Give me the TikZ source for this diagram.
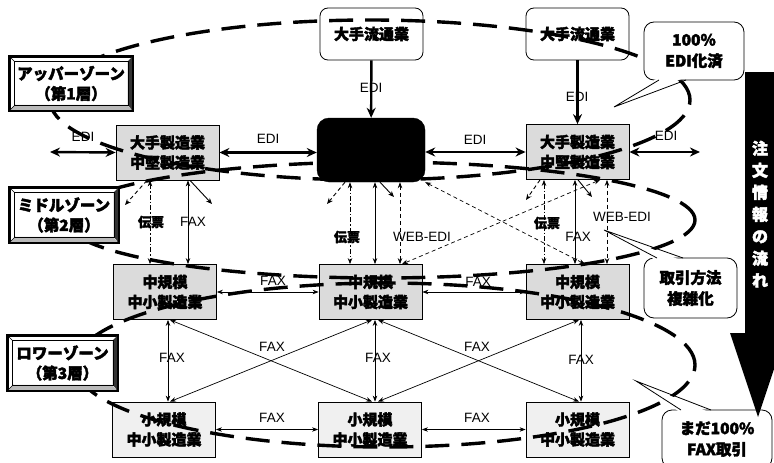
\documentclass[tikz,border=0pt]{standalone}
\usepackage{fontspec}
\newfontfamily\jp{Noto Sans CJK JP}[FakeBold=2.5]
\newfontfamily\lat{Liberation Sans}
\usetikzlibrary{arrows.meta,calc}
\newcommand\zonebevel[1]{%
  \fill[gray!55] (#1.south west) -- (#1.south east) -- ($(#1.south east)+(-6,-6)$) -- ($(#1.south west)+(6,-6)$) -- cycle;
  \fill[black!80] (#1.south east) -- (#1.north east) -- ($(#1.north east)+(-5,5)$) -- ($(#1.south east)+(-5,-6)$) -- cycle;
  \draw[line width=0.5pt] ($(#1.north west)+(5,5)$) rectangle ($(#1.south east)+(-5,-6)$);
  \draw[line width=0.5pt] (#1.north west) -- ($(#1.north west)+(5,5)$) (#1.south west) -- ($(#1.south west)+(6,-6)$);
  \draw[line width=1.6pt] (#1.south west) rectangle (#1.north east);
}
\begin{document}
\begin{tikzpicture}[x=1pt,y=-1pt,
  mbox/.style={draw, line width=0.8pt, fill=gray!28, minimum width=103pt, minimum height=55pt, inner sep=0pt, align=center, font=\jp\bfseries\fontsize{15}{20}\selectfont},
  bbox/.style={mbox, fill=gray!12},
  topbox/.style={draw, line width=0.8pt, fill=white, rounded corners=8pt, minimum width=103pt, minimum height=52pt, inner sep=0pt, font=\jp\bfseries\fontsize{15}{18}\selectfont},
  hubbox/.style={draw, fill=black, rounded corners=12pt, minimum width=108pt, minimum height=64pt},
  zonelab/.style={draw, line width=1.6pt, fill=white, inner sep=0pt, align=center, font=\jp\bfseries\fontsize{15.5}{20}\selectfont},
  callout/.style={draw, line width=0.8pt, fill=white, rounded corners=10pt, inner sep=0pt, align=center, font=\jp\bfseries\fontsize{15.5}{21}\selectfont},
  ediarr/.style={line width=2.4pt, -{Stealth[length=10pt,width=9pt]}},
  edi/.style={line width=2.4pt, {Stealth[length=10pt,width=9pt]}-{Stealth[length=10pt,width=9pt]}},
  thinarr/.style={line width=0.7pt, {Stealth[length=6pt,width=4.5pt]}-{Stealth[length=6pt,width=4.5pt]}},
  thinone/.style={line width=0.9pt, -{Stealth[length=6pt,width=5pt]}},
  dashdot/.style={line width=1.2pt, dash pattern=on 5pt off 2pt on 1.5pt off 2pt},
  dsh/.style={line width=1.3pt, dash pattern=on 4pt off 3pt},
  lab/.style={font=\lat\fontsize{13.5}{14}\selectfont, inner sep=1pt},
  jlab/.style={font=\jp\bfseries\fontsize{13}{14}\selectfont, inner sep=1pt},
  ring/.style={line width=3.4pt, dash pattern=on 24pt off 12pt}
]
\useasboundingbox (0,0) rectangle (774,463);

% boxes
\node[topbox] (r1) at (371.5,34) {大手流通業};
\node[topbox] (r2) at (577.5,34) {大手流通業};
\node[mbox] (m1) at (167.5,152.5) {大手製造業\\中堅製造業};
\node[hubbox] (hub) at (371,150) {};
\node[mbox] (m2) at (577.5,152) {大手製造業\\中堅製造業};
\node[mbox] (s1) at (165,292) {中規模\\中小製造業};
\node[mbox] (s2) at (370.5,292) {中規模\\中小製造業};
\node[mbox] (s3) at (577.5,292) {中規模\\中小製造業};
\node[bbox] (t1) at (164,429.5) {小規模\\中小製造業};
\node[bbox] (t2) at (370,429.5) {小規模\\中小製造業};
\node[bbox] (t3) at (577.5,429.5) {小規模\\中小製造業};

% free ends
\coordinate (eL) at (50,152);
\coordinate (eR) at (700,152);
\coordinate (st1) at (125,205);
\coordinate (st2) at (212,204);
\coordinate (st3) at (327,204);
\coordinate (st4) at (394,197);
\coordinate (st5) at (526,200);
\coordinate (st6) at (592,197);

% EDI arrows
\draw[ediarr] (r1) -- (hub);
\draw[ediarr] (r2) -- (m2);
\draw[edi] (eL) -- (m1.west);
\draw[edi] (m1.east) -- (m1.east -| hub.west);
\draw[edi] (m2.west -| hub.east) -- (m2.west);
\draw[edi] (m2.east) -- (eR);
\node[lab] (le1) at (371,88) {EDI};
\node[lab] (le2) at (577,97) {EDI};
\node[lab] (le3) at (83,137) {EDI};
\node[lab] (le4) at (268,139) {EDI};
\node[lab] (le5) at (475,140) {EDI};
\node[lab] (le6) at (666,136) {EDI};

% column under m1
\draw[dashdot, thinarr] (m1.south -| 150,0) -- (s1.north -| 150,0);
\draw[thinarr] (m1.south -| 188,0) -- (s1.north -| 188,0);
\draw[dsh, thinone] (m1.south -| 147,0) -- (st1);
\draw[thinone] (m1.south -| 190,0) -- (st2);
\node[jlab] (lm1a) at (151,222) {伝票};
\node[lab] (lm1b) at (193,222) {FAX};

% column under hub
\draw[dashdot, thinarr] (hub.south -| 350,0) -- (s2.north -| 350,0);
\draw[thinarr] (hub.south -| 375,0) -- (s2.north -| 375,0);
\draw[dsh, thinarr] (hub.south -| 400,0) -- (s2.north -| 400,0);
\draw[dsh, thinone] (hub.south -| 345,0) -- (st3);
\draw[thinone] (hub.south -| 380,0) -- (st4);
\node[jlab] (lh1) at (347,237) {伝票};
\node[lab] (lh2) at (422,237) {WEB-EDI};

% column under m2
\draw[dashdot, thinarr] (m2.south -| 544,0) -- (s3.north -| 544,0);
\draw[thinarr] (m2.south -| 575,0) -- (s3.north -| 575,0);
\draw[dsh, thinarr] (m2.south -| 607,0) -- (s3.north -| 607,0);
\draw[dsh, thinone] (m2.south -| 540,0) -- (st5);
\draw[thinone] (m2.south -| 578,0) -- (st6);
\node[jlab] (lm2a) at (547,223) {伝票};
\node[lab] (lm2b) at (578,237) {FAX};
\node[lab] (lm2c) at (622,217) {WEB-EDI};

% crossing dashed diagonals
\draw[dsh, thinarr] (hub.south east) -- (s3.north -| 585,0);
\draw[dsh, thinarr] (m2.south -| 600,0) -- (s2.north -| 402,0);

% middle row
\draw[thinarr] (s1.east) -- (s2.west);
\draw[thinarr] (s2.east) -- (s3.west);
\node[lab] (lf1) at (273,281) {FAX};
\node[lab] (lf2) at (478,282) {FAX};

% middle to bottom
\draw[thinarr] (s1.south -| 168,0) -- (t1.north -| 168,0);
\draw[thinarr] (s2.south -| 375,0) -- (t2.north -| 375,0);
\draw[thinarr] (s3.south -| 581,0) -- (t3.north -| 581,0);
\draw[thinarr] (s1.south -| 170,0) -- (t2.north -| 372,0);
\draw[thinarr] (t1.north -| 170,0) -- (s2.south -| 372,0);
\draw[thinarr] (s2.south -| 378,0) -- (t3.north -| 579,0);
\draw[thinarr] (t2.north -| 378,0) -- (s3.south -| 579,0);
\node[lab] (lv1) at (172,358) {FAX};
\node[lab] (lv2) at (378,358) {FAX};
\node[lab] (lv3) at (581,360) {FAX};
\node[lab] (lx1) at (272,347) {FAX};
\node[lab] (lx2) at (477,347) {FAX};

% bottom row
\draw[thinarr] (t1.east) -- (t2.west);
\draw[thinarr] (t2.east) -- (t3.west);
\node[lab] (lb1) at (272,418) {FAX};
\node[lab] (lb2) at (477,418) {FAX};

% zone rings
\draw[ring] (370,100) ellipse [x radius=320pt, y radius=80pt];
\draw[ring] (380,220) ellipse [x radius=315pt, y radius=58pt];
\draw[ring] (385,365) ellipse [x radius=310pt, y radius=82pt];

% zone labels
\node[zonelab, minimum width=122pt, minimum height=53pt] (z1) at (71,83.5) {アッパーゾーン\\（第1層）};
\zonebevel{z1}
\node[zonelab, minimum width=108pt, minimum height=54pt] (z2) at (64,215) {ミドルゾーン\\（第2層）};
\zonebevel{z2}
\node[zonelab, minimum width=109pt, minimum height=54pt] (z3) at (62.5,363) {ロワーゾーン\\（第3層）};
\zonebevel{z3}

% callouts
\node[callout, minimum width=100pt, minimum height=58pt] (c1) at (694,51) {100\%\\EDI化済};
\coordinate (c1tip) at (614,107);
\fill[white] (c1tip) -- (659,77) -- (686,77) -- cycle;
\draw[line width=0.8pt] (659,80) -- (c1tip) -- (686,80);

\node[callout, minimum width=93pt, minimum height=60pt] (c2) at (690.5,288) {取引方法\\複雑化};
\coordinate (c2tip) at (604,230);
\fill[white] (c2tip) -- (657,261) -- (683,261) -- cycle;
\draw[line width=0.8pt] (657,258) -- (c2tip) -- (683,258);

\node[callout, minimum width=110pt, minimum height=58pt] (c3) at (717,439) {まだ100\%\\FAX取引};
\coordinate (c3tip) at (636,381);
\fill[white] (c3tip) -- (681,413) -- (711,413) -- cycle;
\draw[line width=0.8pt] (681,410) -- (c3tip) -- (711,410);

% flow arrow
\fill[black] (745,72) -- (778,72) -- (778,333) -- (786,333) -- (758,417) -- (730,333) -- (745,333) -- cycle;
\node[text=white, align=center, inner sep=0pt, font=\jp\bfseries\fontsize{16}{22}\selectfont] (flow) at (760,214) {注\\文\\情\\報\\の\\流\\れ};
\end{tikzpicture}
\end{document}
